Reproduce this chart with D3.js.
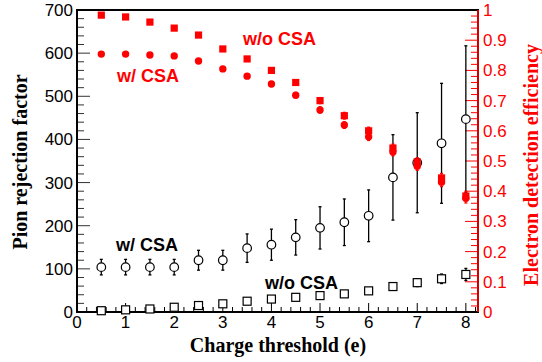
<!DOCTYPE html>
<html lang="en">
<head>
  <meta charset="UTF-8">
  <title>Pion rejection vs electron efficiency</title>
  <script src="https://d3js.org/d3.v7.min.js"></script>
  <style>
    body { margin: 0; padding: 0; background: #fff; }
    .tick-label { font: 17px "Liberation Sans", Arial, sans-serif; }
    .axis-title { font: bold 20px "Liberation Serif", "Times New Roman", serif; }
    .tag { font: bold 18px "Liberation Sans", Arial, sans-serif; }
  </style>
</head>
<body>
  <script>
    // charge thresholds (e)
    const thresholds = [0.5, 1, 1.5, 2, 2.5, 3, 3.5, 4, 4.5, 5, 5.5, 6, 6.5, 7, 7.5, 8];

    // pion rejection factor (left axis)
    const rejCSA = [104, 104, 104, 104, 120, 120, 148, 156, 173, 195, 208, 223, 312, 346, 391, 447];
    const rejCSAErr = [18, 18, 18, 18, 23, 23, 33, 36, 41, 49, 54, 60, 99, 116, 139, 170];
    const rejNoCSA = [3, 5, 7, 11, 15, 19, 25, 30, 34, 38, 42, 49, 59, 68, 77, 87];
    const rejNoCSAErr = [2, 4, 4, 5, 5, 5, 5, 5, 5, 5, 6, 6, 8, 9, 11, 14];

    // electron detection efficiency (right axis)
    const effCSA = [0.854, 0.854, 0.851, 0.848, 0.831, 0.805, 0.781, 0.755, 0.718, 0.669, 0.619, 0.58, 0.53, 0.483, 0.43, 0.377];
    const effNoCSA = [0.983, 0.977, 0.96, 0.94, 0.917, 0.871, 0.838, 0.80, 0.76, 0.70, 0.65, 0.60, 0.543, 0.497, 0.444, 0.384];
    const effErr = [0.004, 0.004, 0.005, 0.005, 0.006, 0.006, 0.007, 0.008, 0.009, 0.01, 0.011, 0.012, 0.013, 0.014, 0.015, 0.016];

    const xTicks = [0, 1, 2, 3, 4, 5, 6, 7, 8];
    const yLeftTicks = [0, 100, 200, 300, 400, 500, 600, 700];
    const yRightTicks = [0, 0.1, 0.2, 0.3, 0.4, 0.5, 0.6, 0.7, 0.8, 0.9, 1];

    const W = 542, H = 362;
    const pLeft = 77, pRight = 478, pTop = 10, pBottom = 312;
    const RED = "#ff0000";

    const svg = d3.select("body").append("svg")
      .attr("width", W).attr("height", H);

    const x = d3.scaleLinear().domain([0, 8.25]).range([pLeft, pRight]);
    const yL = d3.scaleLinear().domain([0, 700]).range([pBottom, pTop]);
    const yR = d3.scaleLinear().domain([0, 1]).range([pBottom, pTop]);

    // ticks (drawn inside the frame, ROOT style)
    const tickG = svg.append("g");
    x.ticks(33).forEach(v => {
      const major = Math.abs(v - Math.round(v)) < 1e-6;
      tickG.append("line")
        .attr("x1", x(v)).attr("x2", x(v))
        .attr("y1", pBottom).attr("y2", pBottom - (major ? 9 : 5))
        .attr("stroke", "#000").attr("stroke-width", 1);
    });
    d3.range(0, 701, 20).forEach(v => {
      const major = v % 100 === 0;
      tickG.append("line")
        .attr("x1", pLeft).attr("x2", pLeft + (major ? 13 : 7))
        .attr("y1", yL(v)).attr("y2", yL(v))
        .attr("stroke", "#333").attr("stroke-width", 1);
    });
    d3.range(0, 51).forEach(i => {
      const v = i / 50;
      const major = i % 5 === 0;
      tickG.append("line")
        .attr("x1", pRight).attr("x2", pRight - (major ? 13 : 7))
        .attr("y1", yR(v)).attr("y2", yR(v))
        .attr("stroke", RED).attr("stroke-width", 1);
    });

    // frame
    svg.append("rect")
      .attr("x", pLeft).attr("y", pTop)
      .attr("width", pRight - pLeft).attr("height", pBottom - pTop)
      .attr("fill", "none").attr("stroke", "#000").attr("stroke-width", 2);
    svg.append("line")
      .attr("x1", pRight).attr("x2", pRight).attr("y1", pTop).attr("y2", pBottom)
      .attr("stroke", "#d00000").attr("stroke-width", 2);

    // tick labels
    svg.append("g").selectAll("text").data(xTicks).join("text")
      .attr("class", "tick-label")
      .attr("x", d => x(d)).attr("y", 328)
      .attr("text-anchor", "middle")
      .text(d => d);
    svg.append("g").selectAll("text").data(yLeftTicks).join("text")
      .attr("class", "tick-label")
      .attr("x", 73).attr("y", d => yL(d) + 6)
      .attr("text-anchor", "end")
      .text(d => d);
    svg.append("g").selectAll("text").data(yRightTicks).join("text")
      .attr("class", "tick-label")
      .attr("x", 483).attr("y", d => yR(d) + 6)
      .attr("fill", RED)
      .text(d => d === 0 || d === 1 ? d : d3.format(".1f")(d));

    // axis titles
    svg.append("text").attr("class", "axis-title")
      .attr("x", 278).attr("y", 352).attr("text-anchor", "middle")
      .text("Charge threshold (e)");
    svg.append("text").attr("class", "axis-title")
      .attr("transform", "translate(27,162) rotate(-90)")
      .attr("text-anchor", "middle")
      .text("Pion rejection factor");
    svg.append("text").attr("class", "axis-title")
      .attr("transform", "translate(538,165) rotate(-90)")
      .attr("text-anchor", "middle").attr("fill", RED)
      .text("Electron detection efficiency");

    // error bar helper
    function errorBars(vals, errs, y, color) {
      const g = svg.append("g").attr("stroke", color).attr("stroke-width", 1.3);
      thresholds.forEach((t, i) => {
        const x0 = x(t), y0 = y(vals[i] - errs[i]), y1 = y(vals[i] + errs[i]);
        g.append("line").attr("x1", x0).attr("x2", x0).attr("y1", y0).attr("y2", y1);
        g.append("line").attr("x1", x0 - 1.5).attr("x2", x0 + 1.5).attr("y1", y0).attr("y2", y0);
        g.append("line").attr("x1", x0 - 1.5).attr("x2", x0 + 1.5).attr("y1", y1).attr("y2", y1);
      });
    }

    // pion rejection
    errorBars(rejCSA, rejCSAErr, yL, "#000");
    errorBars(rejNoCSA, rejNoCSAErr, yL, "#000");
    svg.append("g").selectAll("circle").data(thresholds).join("circle")
      .attr("cx", d => x(d)).attr("cy", (d, i) => yL(rejCSA[i]))
      .attr("r", 4.3).attr("fill", "#fff").attr("stroke", "#000").attr("stroke-width", 1.2);
    svg.append("g").selectAll("rect").data(thresholds).join("rect")
      .attr("x", d => x(d) - 4).attr("y", (d, i) => yL(rejNoCSA[i]) - 4)
      .attr("width", 8).attr("height", 8)
      .attr("fill", "#fff").attr("stroke", "#000").attr("stroke-width", 1.2);

    // electron efficiency
    errorBars(effCSA, effErr, yR, RED);
    errorBars(effNoCSA, effErr, yR, RED);
    svg.append("g").selectAll("rect").data(thresholds).join("rect")
      .attr("x", d => x(d) - 3.6).attr("y", (d, i) => yR(effNoCSA[i]) - 3.6)
      .attr("width", 7.2).attr("height", 7.2).attr("fill", RED);
    svg.append("g").selectAll("circle").data(thresholds).join("circle")
      .attr("cx", d => x(d)).attr("cy", (d, i) => yR(effCSA[i]))
      .attr("r", 3.7).attr("fill", RED);

    // in-plot labels
    svg.append("text").attr("class", "tag").attr("x", 243).attr("y", 45).attr("fill", RED).text("w/o CSA");
    svg.append("text").attr("class", "tag").attr("x", 117).attr("y", 82).attr("fill", RED).text("w/ CSA");
    svg.append("text").attr("class", "tag").attr("x", 116).attr("y", 251).attr("fill", "#000").text("w/ CSA");
    svg.append("text").attr("class", "tag").attr("x", 265).attr("y", 289).attr("fill", "#000").text("w/o CSA");
  </script>
</body>
</html>
